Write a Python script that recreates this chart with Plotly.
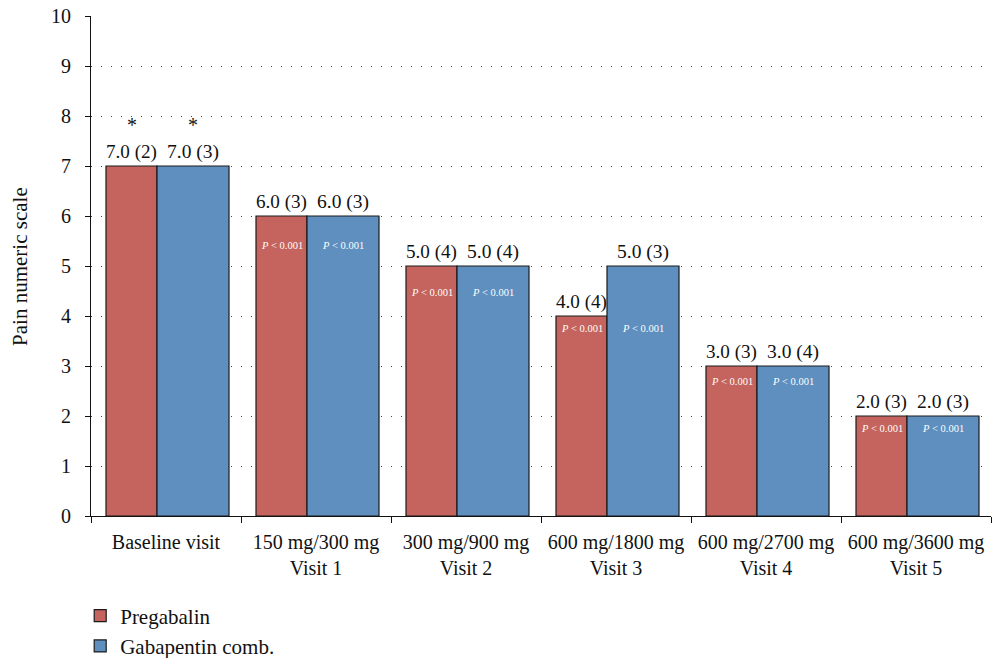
import plotly.graph_objects as go

categories = ["Baseline visit", "150 mg/300 mg<br>Visit 1", "300 mg/900 mg<br>Visit 2",
              "600 mg/1800 mg<br>Visit 3", "600 mg/2700 mg<br>Visit 4", "600 mg/3600 mg<br>Visit 5"]
pregabalin = [7.0, 6.0, 5.0, 4.0, 3.0, 2.0]
pregabalin_iqr = [2, 3, 4, 4, 3, 3]
gabapentin = [7.0, 6.0, 5.0, 5.0, 3.0, 2.0]
gabapentin_iqr = [3, 3, 4, 3, 4, 3]
p_label_y = [None, 5.42, 4.48, 3.76, 2.70, 1.76]
p_text = "<i>P</i> < 0.001"
star_y = 7.82

RED = "#C5645E"
BLUE = "#5E8FBF"
FONT = "Liberation Serif"

red_off, red_w = -0.40, 0.34
blue_off, blue_w = -0.06, 0.48

fig = go.Figure()
fig.add_bar(
    name="Pregabalin", x=categories, y=pregabalin,
    offset=red_off, width=red_w,
    marker=dict(color=RED, line=dict(color="#1a1a1a", width=1.2)),
    text=[f"{v:.1f} ({q})" for v, q in zip(pregabalin, pregabalin_iqr)],
    textposition="outside", textfont=dict(size=19.5, color="#111", family=FONT),
    cliponaxis=False,
)
fig.add_bar(
    name="Gabapentin comb.", x=categories, y=gabapentin,
    offset=blue_off, width=blue_w,
    marker=dict(color=BLUE, line=dict(color="#1a1a1a", width=1.2)),
    text=[f"{v:.1f} ({q})" for v, q in zip(gabapentin, gabapentin_iqr)],
    textposition="outside", textfont=dict(size=19.5, color="#111", family=FONT),
    cliponaxis=False,
)

annotations = []
for i, py in enumerate(p_label_y):
    if py is None:
        continue
    for off, w in ((red_off, red_w), (blue_off, blue_w)):
        annotations.append(dict(x=i + off + w / 2, y=py, xref="x", yref="y", text=p_text,
                                showarrow=False, font=dict(size=10.5, color="white", family=FONT)))
for off, w in ((red_off, red_w), (blue_off, blue_w)):
    annotations.append(dict(x=0 + off + w / 2, y=star_y, xref="x", yref="y", text="*",
                            showarrow=False, font=dict(size=20, color="#111", family=FONT)))
annotations.append(dict(x=-0.079, y=0.5, xref="paper", yref="paper", text="Pain numeric scale",
                        xanchor="center", yanchor="middle",
                        textangle=-90, showarrow=False, font=dict(size=21, family=FONT, color="#111")))

fig.update_layout(
    width=992, height=658,
    margin=dict(l=91, r=1, t=16, b=142, autoexpand=False),
    plot_bgcolor="white", paper_bgcolor="white",
    font=dict(family=FONT, size=20, color="#111"),
    barmode="group",
    annotations=annotations,
    showlegend=True,
    legend=dict(x=-0.012, y=0.095, xanchor="left", yanchor="top", yref="container",
                orientation="v", font=dict(size=21, family=FONT), tracegroupgap=0, itemwidth=30),
    xaxis=dict(
        type="category", range=[-0.5, 5.5], showline=True, linecolor="#111", linewidth=1.2,
        ticks="outside", tickson="boundaries", ticklen=6, tickcolor="#111",
        tickfont=dict(size=20, family=FONT), showgrid=False, automargin=False,
        ticklabelstandoff=8,
    ),
    yaxis=dict(
        range=[0, 10], dtick=1, showline=True, linecolor="#111", linewidth=1.2,
        ticks="outside", ticklen=5, tickcolor="#111", tickfont=dict(size=20, family=FONT),
        showgrid=True, gridcolor="#444", griddash="1px,9px", gridwidth=1.3, zeroline=False,
        automargin=False, ticklabelstandoff=10,
    ),
)

fig.write_html("out.html", config={"displayModeBar": False},
               post_script="document.body.style.margin='0';document.body.style.padding='0';")
